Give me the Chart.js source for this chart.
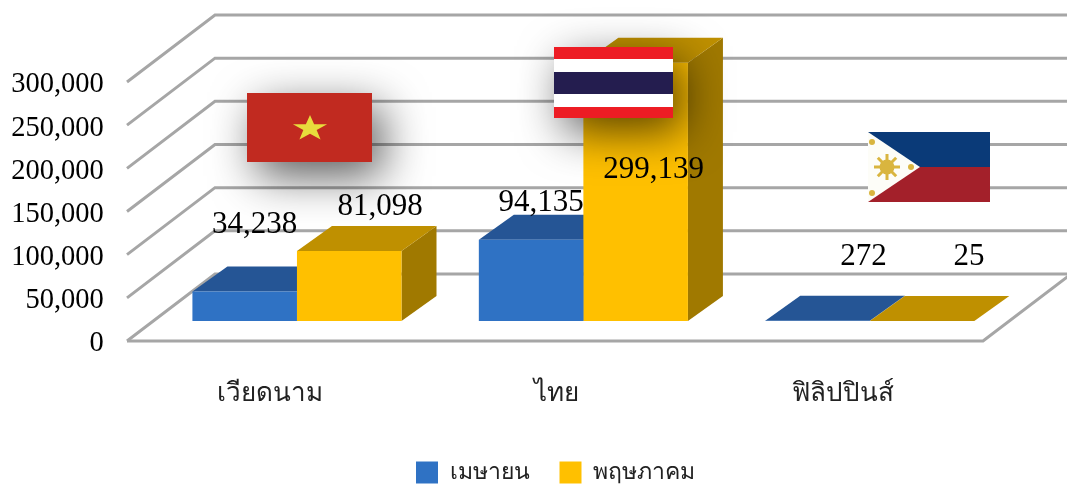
<!DOCTYPE html>
<html>
<head>
<meta charset="utf-8">
<script src="https://cdn.jsdelivr.net/npm/chart.js@4"></script>
<style>
body{margin:0;background:#fff}
canvas{display:block}
</style>
</head>
<body>
<canvas id="chart" width="1067" height="486"></canvas>
<script>
const categories = ["เวียดนาม", "ไทย", "ฟิลิปปินส์"];
const aprilValues = [34238, 94135, 272];
const mayValues = [81098, 299139, 25];
const seriesNames = ["เมษายน", "พฤษภาคม"];

// depth of the bars and of the floor, px
const barDx = 35, barDy = 25;
const floorDx = 88, floorDy = 67;
const frontDrop = 20;   // front floor edge sits this far below the bar base
const wallLeft = 127, floorRight = 983;

const sideColors = ["#1f4f8c", "#A07900"];
const topColors = ["#255595", "#BF9000"];

// where the data labels sit relative to each bar top, as in the original slide
const labelShift = [
    [[10, -67], [10, -37], [46, -64]],
    [[31, -44], [18, 107], [47, -64]]
];

const thaiFont = "'Noto Sans','DejaVu Sans',sans-serif";
const numFont = "'Liberation Serif',serif";

function poly(ctx, pts, color) {
    ctx.fillStyle = color;
    ctx.beginPath();
    pts.forEach((p, i) => i ? ctx.lineTo(p[0], p[1]) : ctx.moveTo(p[0], p[1]));
    ctx.closePath();
    ctx.fill();
}

function vietnamFlag(ctx) {
    ctx.save();
    ctx.shadowColor = "rgba(0,0,0,.65)";
    ctx.shadowBlur = 45;
    ctx.shadowOffsetX = 10;
    ctx.shadowOffsetY = 14;
    ctx.fillStyle = "#C12A20";
    ctx.fillRect(247, 93, 125, 69);
    ctx.restore();
    // star is a bit stretched sideways in the original picture
    const pts = [];
    for (let i = 0; i < 10; i++) {
        const r = i % 2 ? 7 : 18;
        const a = -Math.PI / 2 + i * Math.PI / 5;
        pts.push([310 + r * Math.cos(a), 128.5 + r * 0.75 * Math.sin(a)]);
    }
    poly(ctx, pts, "#E8DC3C");
}

function thaiFlag(ctx) {
    ctx.save();
    ctx.shadowColor = "rgba(0,0,0,.65)";
    ctx.shadowBlur = 45;
    ctx.shadowOffsetX = 10;
    ctx.shadowOffsetY = 14;
    ctx.fillStyle = "#fff";
    ctx.fillRect(554, 47, 119, 71);
    ctx.restore();
    ctx.fillStyle = "#ED1C24";
    ctx.fillRect(554, 47, 119, 12);
    ctx.fillRect(554, 107, 119, 11);
    ctx.fillStyle = "#241D4F";
    ctx.fillRect(554, 72, 119, 22);
}

function philippineFlag(ctx) {
    ctx.fillStyle = "#0A3A78";
    ctx.fillRect(868, 132, 122, 35);
    ctx.fillStyle = "#A3202A";
    ctx.fillRect(868, 167, 122, 35);
    poly(ctx, [[868, 132], [920, 167], [868, 202]], "#fdfdf8");
    ctx.strokeStyle = "#D9B53F";
    ctx.lineWidth = 3;
    for (let i = 0; i < 8; i++) {
        const a = i * Math.PI / 4;
        ctx.beginPath();
        ctx.moveTo(887, 167);
        ctx.lineTo(887 + 13 * Math.cos(a), 167 + 13 * Math.sin(a));
        ctx.stroke();
    }
    ctx.fillStyle = "#D9B53F";
    [[887, 167, 7.5], [872, 142, 3], [872, 193, 3], [911, 167, 3]].forEach(c => {
        ctx.beginPath();
        ctx.arc(c[0], c[1], c[2], 0, Math.PI * 2);
        ctx.fill();
    });
}

const box3d = {
    id: "box3d",
    afterLayout(chart) {
        // legend sits lower and more to the right than Chart.js would put it
        const legend = chart.legend;
        legend.left += 49;
        legend.right += 49;
        legend.top += 8;
    },
    beforeDatasetsDraw(chart) {
        const ctx = chart.ctx;
        const yScale = chart.scales.y;
        ctx.save();

        // walls and floor
        ctx.strokeStyle = "#A6A6A6";
        ctx.lineWidth = 3;
        yScale.ticks.forEach(t => {
            const y = yScale.getPixelForValue(t.value) + frontDrop;
            ctx.beginPath();
            ctx.moveTo(wallLeft, y);
            ctx.lineTo(wallLeft + floorDx, y - floorDy);
            ctx.lineTo(1067, y - floorDy);
            ctx.stroke();
        });
        const y0 = yScale.getPixelForValue(0) + frontDrop;
        ctx.beginPath();
        ctx.moveTo(wallLeft, y0);
        ctx.lineTo(floorRight, y0);
        ctx.lineTo(floorRight + floorDx, y0 - floorDy);
        ctx.stroke();

        // top and side of the boxes, the fronts are the normal chart bars
        chart.getSortedVisibleDatasetMetas().forEach(meta => {
            meta.data.forEach(bar => {
                const l = bar.x - bar.width / 2, r = bar.x + bar.width / 2;
                poly(ctx, [[r, bar.y], [r + barDx, bar.y - barDy], [r + barDx, bar.base - barDy], [r, bar.base]], sideColors[meta.index]);
                poly(ctx, [[l, bar.y], [r, bar.y], [r + barDx, bar.y - barDy], [l + barDx, bar.y - barDy]], topColors[meta.index]);
            });
        });
        ctx.restore();
    },
    afterDatasetsDraw(chart) {
        const ctx = chart.ctx;
        ctx.save();
        vietnamFlag(ctx);
        thaiFlag(ctx);
        philippineFlag(ctx);

        ctx.font = "31px " + numFont;
        ctx.fillStyle = "#000";
        ctx.textAlign = "center";
        ctx.textBaseline = "middle";
        chart.getSortedVisibleDatasetMetas().forEach(meta => {
            const values = chart.data.datasets[meta.index].data;
            meta.data.forEach((bar, i) => {
                const s = labelShift[meta.index][i];
                ctx.fillText(values[i].toLocaleString("en-US"), bar.x + s[0], bar.y + s[1]);
            });
        });
        ctx.restore();
    }
};

new Chart(document.getElementById("chart"), {
    type: "bar",
    data: {
        labels: categories,
        datasets: [
            { label: seriesNames[0], data: aprilValues, backgroundColor: "#2F72C4" },
            { label: seriesNames[1], data: mayValues, backgroundColor: "#FFC000" }
        ]
    },
    options: {
        responsive: false,
        animation: false,
        categoryPercentage: 0.73,
        barPercentage: 1,
        layout: { padding: { top: 62, right: 54, left: 0, bottom: 0 } },
        scales: {
            x: {
                border: { display: false },
                grid: { display: false, drawTicks: false },
                afterFit(s) { s.height = 102; },
                ticks: {
                    color: "#222",
                    font: { family: thaiFont, size: 26 },
                    padding: 57,
                    labelOffset: -27,
                    maxRotation: 0,
                    autoSkip: false
                }
            },
            y: {
                min: 0,
                max: 300000,
                border: { display: false },
                grid: { display: false, drawTicks: false },
                afterFit(s) {
                    s.width = 153.75;
                    // tick padding would otherwise push the plot area down
                    s.paddingTop = 0;
                    s.paddingBottom = 0;
                },
                ticks: {
                    stepSize: 50000,
                    color: "#000",
                    font: { family: numFont, size: 28.5 },
                    padding: 50,
                    labelOffset: 23,
                    callback: v => v.toLocaleString("en-US")
                }
            }
        },
        plugins: {
            tooltip: { enabled: false },
            legend: {
                position: "bottom",
                labels: {
                    boxWidth: 22,
                    boxHeight: 22,
                    color: "#222",
                    padding: 30,
                    font: { family: thaiFont, size: 23 }
                }
            }
        }
    },
    plugins: [box3d]
});
</script>
</body>
</html>
